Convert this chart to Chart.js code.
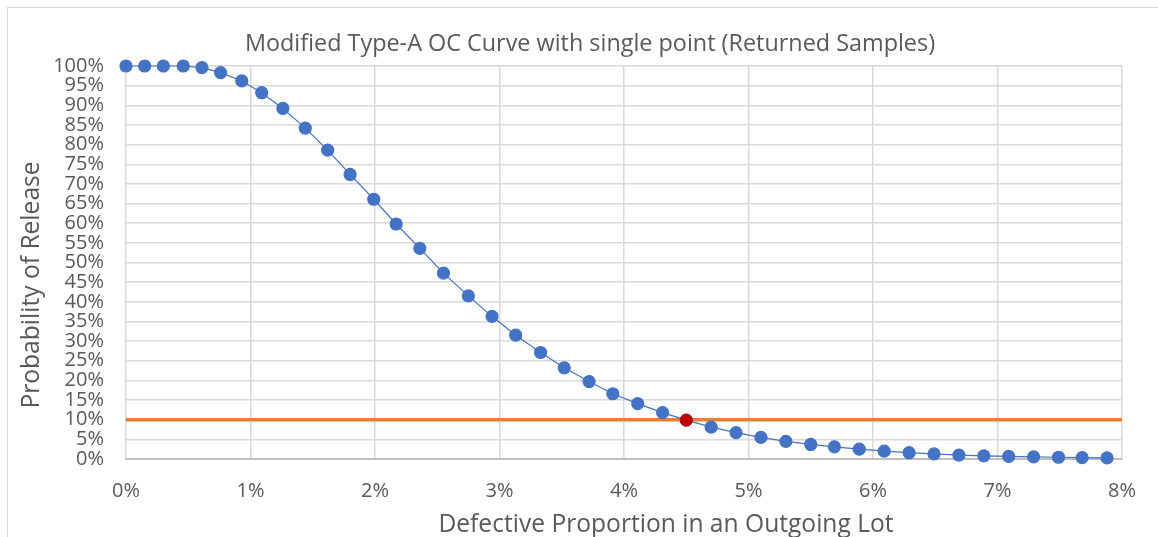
<!DOCTYPE html>
<html>
<head>
<meta charset="utf-8">
<script src="https://cdn.jsdelivr.net/npm/chart.js@4.4.1/dist/chart.umd.min.js"></script>
<style>
    html, body { margin: 0; padding: 0; background: #fff; }
    #wrap { width: 1158px; height: 537px; position: relative; }
</style>
</head>
<body>
<div id="wrap"><canvas id="oc-chart" width="1158" height="537"></canvas></div>
<script>
// Defective proportion (%) and probability of release (%) for the OC curve
const defectPct = [0, 0.15, 0.3, 0.46, 0.61, 0.76, 0.93, 1.09, 1.26, 1.44, 1.62, 1.8, 1.99, 2.17,
    2.36, 2.55, 2.75, 2.94, 3.13, 3.33, 3.52, 3.72, 3.91, 4.11, 4.31, 4.5, 4.7, 4.9, 5.1, 5.3,
    5.5, 5.69, 5.89, 6.09, 6.29, 6.49, 6.69, 6.89, 7.09, 7.29, 7.49, 7.68, 7.88];
const releasePct = [100, 100, 100, 100, 99.6, 98.3, 96.2, 93.2, 89.2, 84.2, 78.6, 72.4, 66.1, 59.8,
    53.6, 47.3, 41.5, 36.3, 31.5, 27.1, 23.2, 19.7, 16.6, 14.1, 11.8, 9.9, 8.1, 6.7, 5.5, 4.5,
    3.7, 3.1, 2.5, 2.0, 1.6, 1.3, 1.0, 0.8, 0.65, 0.55, 0.45, 0.35, 0.28];

// the single point of interest
const singlePointX = [4.5];
const singlePointY = [9.9];

// 10% reference line across the whole x range
const refLineX = [0, 8];
const refLineY = [10, 10];

const chartTitle = 'Modified Type-A OC Curve with single point (Returned Samples)';
const xTitle = 'Defective Proportion in an Outgoing Lot';
const yTitle = 'Probability of Release';

const textColor = '#595959';
const fontFamily = '"Open Sans", sans-serif';

const toPoints = (xs, ys) => xs.map((x, i) => ({ x: x, y: ys[i] }));

// white background + light frame, titles drawn at fixed spots
const framePlugin = {
    id: 'frame',
    beforeDraw(chart) {
        const ctx = chart.ctx;
        ctx.save();
        ctx.fillStyle = '#fff';
        ctx.fillRect(0, 0, chart.width, chart.height);
        ctx.strokeStyle = '#d9d9d9';
        ctx.lineWidth = 1;
        ctx.strokeRect(7.5, 7.5, chart.width + 20, chart.height + 20);
        ctx.restore();
    },
    afterDraw(chart) {
        const ctx = chart.ctx;
        ctx.save();
        ctx.fillStyle = textColor;
        ctx.textAlign = 'center';
        ctx.textBaseline = 'alphabetic';

        ctx.font = '23.4px ' + fontFamily;
        ctx.fillText(chartTitle, 590, 51);

        ctx.font = '24.6px ' + fontFamily;
        ctx.fillText(xTitle, 666, 532);

        ctx.translate(39, 285);
        ctx.rotate(-Math.PI / 2);
        ctx.fillText(yTitle, 0, 0);
        ctx.restore();
    },
};

const ctx = document.getElementById('oc-chart').getContext('2d');
new Chart(ctx, {
    type: 'scatter',
    data: {
        datasets: [
            {
                label: '10% line',
                data: toPoints(refLineX, refLineY),
                showLine: true,
                borderColor: '#ED7D31',
                borderWidth: 3.5,
                pointRadius: 0,
                clip: false,
                order: 3,
            },
            {
                label: 'OC curve',
                data: toPoints(defectPct, releasePct),
                showLine: true,
                borderColor: '#4472C4',
                borderWidth: 1.2,
                backgroundColor: '#4472C4',
                pointBackgroundColor: '#4472C4',
                pointBorderColor: '#4472C4',
                pointRadius: 6,
                clip: false,
                order: 2,
            },
            {
                label: 'single point',
                data: toPoints(singlePointX, singlePointY),
                backgroundColor: '#C00000',
                pointBackgroundColor: '#C00000',
                pointBorderColor: '#C00000',
                pointRadius: 6,
                clip: false,
                order: 1,
            },
        ],
    },
    options: {
        responsive: false,
        animation: false,
        layout: {
            padding: { left: 8, right: 36, top: 66, bottom: 0 },
        },
        plugins: {
            legend: { display: false },
            tooltip: { enabled: false },
            title: { display: false },
        },
        scales: {
            x: {
                type: 'linear',
                min: 0,
                max: 8,
                afterFit: (scale) => { scale.height = 78; },
                ticks: {
                    stepSize: 1,
                    padding: 20,
                    color: textColor,
                    font: { family: fontFamily, size: 20 },
                    callback: (v) => v + '%',
                },
                grid: { color: '#d9d9d9', lineWidth: 1.5, drawTicks: false },
                border: { color: '#bfbfbf', width: 2 },
            },
            y: {
                type: 'linear',
                min: 0,
                max: 100,
                afterFit: (scale) => { scale.width = 118; },
                ticks: {
                    stepSize: 5,
                    autoSkip: false,
                    padding: 22,
                    color: textColor,
                    font: { family: fontFamily, size: 20, lineHeight: 1 },
                    callback: (v) => v + '%',
                },
                grid: { color: '#d9d9d9', lineWidth: 1.5, drawTicks: false },
                border: { display: false },
            },
        },
    },
    plugins: [framePlugin],
});
</script>
</body>
</html>
